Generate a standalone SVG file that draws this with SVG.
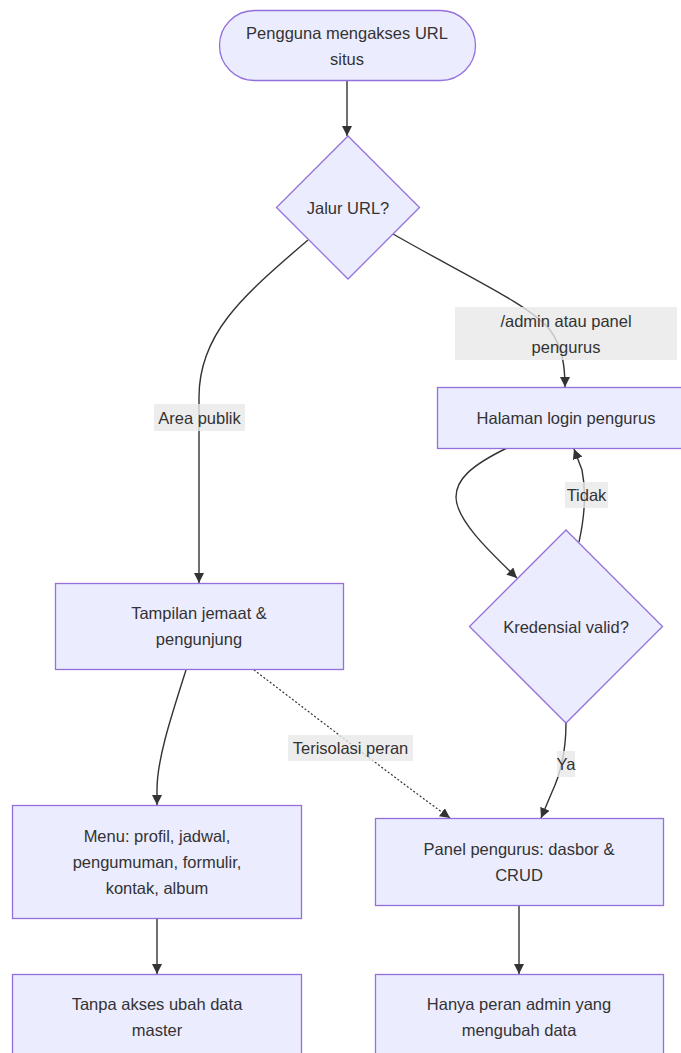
<svg xmlns="http://www.w3.org/2000/svg" width="681" height="1053" viewBox="0 0 681 1053">
  <style>
    .node { fill: #ECECFF; stroke: #9370DB; stroke-width: 1.3; }
    .label { font-family: "Liberation Sans", Arial, sans-serif; font-size: 16.5px; fill: #333333; text-anchor: middle; dominant-baseline: central; }
    .edge { fill: none; stroke: #333333; stroke-width: 1.4; }
    .dotted { stroke-dasharray: 2 2; stroke-width: 1.2; }
    .elbg { fill: #e8e8e8; fill-opacity: 0.8; }
  </style>
  <defs>
    <marker id="arrow" viewBox="0 0 10 10" refX="10" refY="5" markerWidth="10" markerHeight="10" markerUnits="userSpaceOnUse" orient="auto">
      <path d="M0,0 L10,5 L0,10 z" fill="#333333"/>
    </marker>
  </defs>
  <rect width="681" height="1053" fill="#ffffff"/>

  <!-- connectors -->
  <g id="edges">
    <path class="edge" d="M347,81 L347,136" marker-end="url(#arrow)"/>
    <path class="edge" d="M308,240 C240,298 199,335 199,397 L199,583" marker-end="url(#arrow)"/>
    <path class="edge" d="M393,234 C470,278 530,305 550,330 C562,346 565,365 565,387" marker-end="url(#arrow)"/>
    <path class="edge" d="M507,448 C470,466 456,480 456,497 C456,520 490,552 517,578" marker-end="url(#arrow)"/>
    <path class="edge" d="M579,542 C585,515 586,490 582,470 L574,449" marker-end="url(#arrow)"/>
    <path class="edge" d="M566,723 C566,750 560,775 552,792 L541,818" marker-end="url(#arrow)"/>
    <path class="edge" d="M186,670 C170,720 157,760 157,790 L157,805" marker-end="url(#arrow)"/>
    <path class="edge dotted" d="M254,670 C300,705 400,782 450,818" marker-end="url(#arrow)"/>
    <path class="edge" d="M157,918 L157,974" marker-end="url(#arrow)"/>
    <path class="edge" d="M519,905 L519,974" marker-end="url(#arrow)"/>
  </g>

  <!-- edge labels -->
  <g id="edge-labels">
    <g id="lbl-publik">
      <rect class="elbg" x="154" y="404" width="91" height="27"/>
      <text class="label" x="199.5" y="417.5">Area publik</text>
    </g>
    <g id="lbl-admin">
      <rect class="elbg" x="455" y="307" width="222" height="53"/>
      <text class="label" x="566" y="320.5">/admin atau panel</text>
      <text class="label" x="566" y="346.5">pengurus</text>
    </g>
    <g id="lbl-tidak">
      <rect class="elbg" x="565" y="482" width="43" height="26"/>
      <text class="label" x="586.5" y="495">Tidak</text>
    </g>
    <g id="lbl-ya">
      <rect class="elbg" x="557" y="751" width="18" height="26"/>
      <text class="label" x="566" y="764">Ya</text>
    </g>
    <g id="lbl-terisolasi">
      <rect class="elbg" x="288" y="735" width="125" height="26"/>
      <text class="label" x="350.5" y="748">Terisolasi peran</text>
    </g>
  </g>

  <!-- nodes -->
  <g id="start">
    <rect class="node" x="219.5" y="10.5" width="256" height="70" rx="35" ry="35"/>
    <text class="label" x="347" y="32.5">Pengguna mengakses URL</text>
    <text class="label" x="347" y="58.5">situs</text>
  </g>
  <g id="jalur">
    <polygon class="node" points="348,136 419.5,207.5 348,279 276.5,207.5"/>
    <text class="label" x="348" y="207.5">Jalur URL?</text>
  </g>
  <g id="login">
    <rect class="node" x="437.5" y="387.5" width="258" height="61"/>
    <text class="label" x="566" y="418">Halaman login pengurus</text>
  </g>
  <g id="kredensial">
    <polygon class="node" points="566,530 662.5,626.5 566,723 469.5,626.5"/>
    <text class="label" x="566" y="626.5">Kredensial valid?</text>
  </g>
  <g id="tampilan">
    <rect class="node" x="55.5" y="583.5" width="288" height="86"/>
    <text class="label" x="199" y="613">Tampilan jemaat &amp;</text>
    <text class="label" x="199" y="639">pengunjung</text>
  </g>
  <g id="menu">
    <rect class="node" x="12.5" y="805.5" width="289" height="113"/>
    <text class="label" x="157" y="835.5">Menu: profil, jadwal,</text>
    <text class="label" x="157" y="861.5">pengumuman, formulir,</text>
    <text class="label" x="157" y="887.5">kontak, album</text>
  </g>
  <g id="panel">
    <rect class="node" x="375.5" y="818.5" width="288" height="87"/>
    <text class="label" x="519" y="848.5">Panel pengurus: dasbor &amp;</text>
    <text class="label" x="519" y="874.5">CRUD</text>
  </g>
  <g id="tanpa">
    <rect class="node" x="12.5" y="974.5" width="289" height="87"/>
    <text class="label" x="157" y="1004">Tanpa akses ubah data</text>
    <text class="label" x="157" y="1030">master</text>
  </g>
  <g id="hanya">
    <rect class="node" x="375.5" y="974.5" width="288" height="87"/>
    <text class="label" x="519" y="1004">Hanya peran admin yang</text>
    <text class="label" x="519" y="1030">mengubah data</text>
  </g>
</svg>
